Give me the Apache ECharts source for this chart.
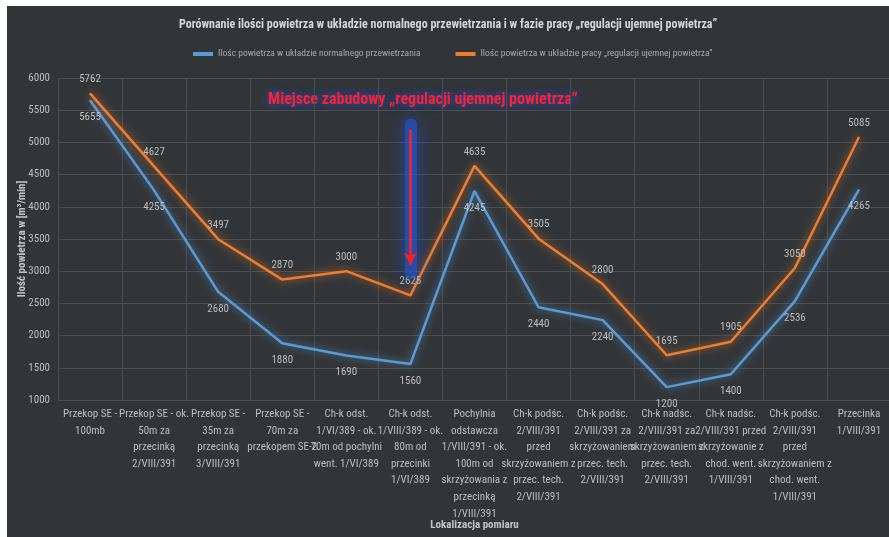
<!DOCTYPE html>
<html>
<head>
<meta charset="UTF-8">
<title>Porównanie ilości powietrza</title>
<script src="https://cdn.jsdelivr.net/npm/echarts@6/dist/echarts.min.js"></script>
<style>
  html, body { margin: 0; padding: 0; background: #ffffff; }
  #chartmain { position: absolute; left: 7px; top: 6px; width: 882px; height: 531px; }
</style>
</head>
<body>
<div id="chartmain"></div>
<script>
// lokalizacje pomiaru (kategorie osi X)
var categories = [
  "Przekop SE -\n100mb",
  "Przekop SE - ok.\n50m za\nprzecinką\n2/VIII/391",
  "Przekop SE -\n35m za\nprzecinką\n3/VIII/391",
  "Przekop SE -\n70m za\nprzekopem SE-2",
  "Ch-k odst.\n1/VI/389 - ok.\n70m od pochylni\nwent. 1/VI/389",
  "Ch-k odst.\n1/VIII/389 - ok.\n80m od\nprzecinki\n1/VI/389",
  "Pochylnia\nodstawcza\n1/VIII/391 - ok.\n100m od\nskrzyżowania z\nprzecinką\n1/VIII/391",
  "Ch-k podśc.\n2/VIII/391\nprzed\nskrzyżowaniem z\nprzec. tech.\n2/VIII/391",
  "Ch-k podśc.\n2/VIII/391 za\nskrzyżowaniem\nprzec. tech.\n2/VIII/391",
  "Ch-k nadśc.\n2/VIII/391 za\nskrzyżowaniem z\nprzec. tech.\n2/VIII/391",
  "Ch-k nadśc.\n2/VIII/391 przed\nskrzyżowanie z\nchod. went.\n1/VIII/391",
  "Ch-k podśc.\n2/VIII/391\nprzed\nskrzyżowaniem z\nchod. went.\n1/VIII/391",
  "Przecinka\n1/VIII/391"
];
var normalne = [5655, 4255, 2680, 1880, 1690, 1560, 4245, 2440, 2240, 1200, 1400, 2536, 4265];
var regulacja = [5762, 4627, 3497, 2870, 3000, 2625, 4635, 3505, 2800, 1695, 1905, 3050, 5085];
var seriesNames = [
  "Ilośc powietrza w układzie normalnego przewietrzania",
  "Ilośc powietrza w układzie pracy „regulacji ujemnej powietrza”"
];
// miejsce zabudowy - strzałka (indeks kategorii, od/do)
var arrowCat = 5;
var arrowFrom = 5200;
var arrowTo = 3100;

var FONT = "'Roboto Condensed', 'Liberation Sans', sans-serif";
var txt = '#bdbdbd';

var mychart = echarts.init(document.getElementById("chartmain"));
var myoption = {
  backgroundColor: '#323538',
  textStyle: { fontFamily: FONT },
  title: {
    text: 'Porównanie ilości powietrza w układzie normalnego przewietrzania i w fazie pracy „regulacji ujemnej powietrza”',
    left: 'center',
    top: 8,
    textStyle: { color: '#d6d6d6', fontSize: 12, fontWeight: 'bold', fontFamily: FONT }
  },
  legend: {
    top: 38,
    left: 181,
    itemGap: 35,
    itemWidth: 20,
    itemHeight: 4,
    icon: 'rect',
    data: seriesNames,
    textStyle: { color: '#a9a9a9', fontSize: 9.5, fontFamily: FONT }
  },
  grid: { left: 51, right: -2, top: 72, bottom: 137, outerBoundsMode: 'none' },
  xAxis: {
    type: 'category',
    data: categories,
    boundaryGap: true,
    name: 'Lokalizacja pomiaru',
    nameLocation: 'middle',
    nameGap: 120,
    nameMoveOverlap: false,
    nameTextStyle: { color: '#c4c4c4', fontSize: 11, fontWeight: 'bold' },
    axisLine: { show: false },
    axisTick: { show: false },
    splitLine: { show: true, interval: 0, lineStyle: { color: '#4a4d51', width: 1 } },
    axisLabel: { interval: 0, color: txt, fontSize: 11, lineHeight: 16.6, margin: 6 }
  },
  yAxis: {
    type: 'value',
    min: 1000,
    max: 6000,
    interval: 500,
    name: 'Ilość powietrza w [m³/min]',
    nameLocation: 'middle',
    nameGap: 30,
    nameMoveOverlap: false,
    nameTextStyle: { color: '#c4c4c4', fontSize: 11, fontWeight: 'bold' },
    axisLine: { show: false },
    axisTick: { show: false },
    splitLine: { lineStyle: { color: '#4a4d51', width: 1 } },
    axisLabel: { color: txt, fontSize: 11, margin: 8, formatter: function (v) { return String(v); } }
  },
  graphic: [{
    type: 'text',
    left: 261,
    top: 86,
    style: {
      text: 'Miejsce zabudowy „regulacji ujemnej powietrza”',
      fill: '#ff1f2e',
      font: 'bold 16px ' + FONT,
      textShadowColor: '#1d55f0',
      textShadowBlur: 8
    }
  }],
  series: [
    {
      name: seriesNames[0],
      type: 'line',
      data: normalne,
      symbol: 'circle',
      symbolSize: 1,
      lineStyle: { color: '#5b9bd5', width: 2.5, shadowColor: 'rgba(91,155,213,0.8)', shadowBlur: 8 },
      itemStyle: { color: '#5b9bd5' },
      label: { show: true, position: 'bottom', distance: 11, color: txt, fontSize: 11 },
      markLine: {
        silent: true,
        symbol: ['none', 'none'],
        label: { show: false },
        lineStyle: { color: 'rgba(35,85,210,0.6)', width: 12, type: 'solid', shadowColor: 'rgba(29,85,240,1)', shadowBlur: 18, cap: 'round' },
        data: [[
          { coord: [arrowCat, arrowFrom + 80] },
          { coord: [arrowCat, arrowTo - 130] }
        ]]
      }
    },
    {
      name: seriesNames[1],
      type: 'line',
      data: regulacja,
      symbol: 'circle',
      symbolSize: 1,
      lineStyle: { color: '#ed7d31', width: 2.5, shadowColor: 'rgba(237,125,49,0.8)', shadowBlur: 8 },
      itemStyle: { color: '#ed7d31' },
      label: { show: true, position: 'top', distance: 8, color: txt, fontSize: 11 },
      markLine: {
        silent: true,
        symbol: ['none', 'arrow'],
        symbolSize: [10, 12],
        label: { show: false },
        lineStyle: { color: '#ff2020', width: 2.5, type: 'solid' },
        data: [[
          { coord: [arrowCat, arrowFrom] },
          { coord: [arrowCat, arrowTo] }
        ]]
      }
    }
  ]
};
mychart.setOption(myoption);
</script>
</body>
</html>
